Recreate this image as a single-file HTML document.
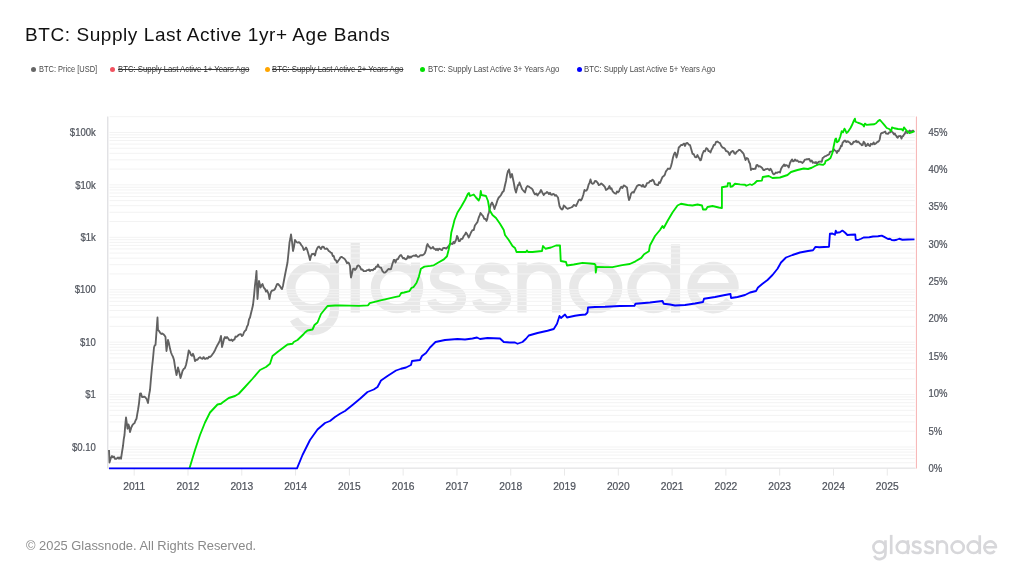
<!DOCTYPE html>
<html><head><meta charset="utf-8"><title>BTC: Supply Last Active 1yr+ Age Bands</title>
<style>
html,body{margin:0;padding:0;background:#fff;}
body{width:1024px;height:576px;position:relative;overflow:hidden;font-family:"Liberation Sans",sans-serif;}
#title{position:absolute;left:25.3px;top:22.6px;font-size:19px;line-height:24px;color:#111;white-space:nowrap;letter-spacing:0.57px;}
#legend{position:absolute;left:0;top:62px;height:14px;font-size:8.6px;line-height:14px;color:#4a4a4a;white-space:nowrap;}
#legend .it{position:absolute;top:0.3px;transform-origin:0 50%;transform:scaleX(0.903);}
#legend .dot{position:absolute;top:4.5px;width:5px;height:5px;border-radius:50%;}
#legend .off{text-decoration:line-through;color:#333;}
#foot{position:absolute;left:25.5px;top:538px;font-size:12.9px;line-height:16px;color:#8a8a8a;white-space:nowrap;}
svg{position:absolute;left:0;top:0;will-change:transform;}
#title,#foot,#legend{will-change:transform;}
svg text{font-family:"Liberation Sans",sans-serif;font-size:10.3px;fill:#4f535c;stroke:#4f535c;stroke-width:0.22px;}
</style></head><body>
<div id="title">BTC: Supply Last Active 1yr+ Age Bands</div>
<div id="legend">
<span class="dot" style="left:31px;background:#666"></span><span class="it" style="left:39px;transform:scaleX(0.87)">BTC: Price [USD]</span>
<span class="dot" style="left:109.8px;background:#f0525f"></span><span class="it off" style="left:118.3px">BTC: Supply Last Active 1+ Years Ago</span>
<span class="dot" style="left:264.8px;background:#ffa500"></span><span class="it off" style="left:272.3px">BTC: Supply Last Active 2+ Years Ago</span>
<span class="dot" style="left:420px;background:#00e000"></span><span class="it" style="left:428.2px">BTC: Supply Last Active 3+ Years Ago</span>
<span class="dot" style="left:576.5px;background:#0000ff"></span><span class="it" style="left:584px">BTC: Supply Last Active 5+ Years Ago</span>
</div>
<svg width="1024" height="576" viewBox="0 0 1024 576">
<g fill="none" stroke="#e8e8e8" stroke-width="9.2" stroke-linecap="butt" stroke-linejoin="round"><ellipse cx="312.5" cy="287.7" rx="21.6" ry="21"/><path d="M334.5,262.5 V309 A21.5,21.5 0 0 1 294.02,319.09"/><path d="M355.25,243 V312.6"/><ellipse cx="397" cy="287.7" rx="21.6" ry="21"/><path d="M415.5,262.5 V312.6"/><path d="M460.50,274.70 C458.50,268.70 451.75,267.20 446.75,267.20 C438.75,267.20 434.50,270.70 434.50,277.70 C434.50,284.20 439.75,285.90 446.75,287.70 C453.75,289.50 461.50,291.20 461.50,298.20 C461.50,305.20 454.75,308.70 446.75,308.70 C440.75,308.70 433.00,306.70 431.50,299.70"/><path d="M505.50,274.70 C503.50,268.70 496.75,267.20 491.75,267.20 C483.75,267.20 479.50,270.70 479.50,277.70 C479.50,284.20 484.75,285.90 491.75,287.70 C498.75,289.50 506.50,291.20 506.50,298.20 C506.50,305.20 499.75,308.70 491.75,308.70 C485.75,308.70 478.00,306.70 476.50,299.70"/><path d="M522,312.6 V262.5 M522,284 A17.25,17.25 0 0 1 556.5,284 V312.6"/><ellipse cx="595.75" cy="287.7" rx="22" ry="21"/><ellipse cx="653.5" cy="287.7" rx="21.6" ry="21"/><path d="M675.5,244.3 V312.6"/><path d="M692.00,287.7 H734.20 A21.1,21.1 0 1 0 729.73,300.69"/></g>
<g stroke="#f3f3f3" stroke-width="1"><line x1="109.5" x2="914.8" y1="467.83" y2="467.83"/><line x1="109.5" x2="914.8" y1="462.75" y2="462.75"/><line x1="109.5" x2="914.8" y1="458.60" y2="458.60"/><line x1="109.5" x2="914.8" y1="455.09" y2="455.09"/><line x1="109.5" x2="914.8" y1="452.05" y2="452.05"/><line x1="109.5" x2="914.8" y1="449.37" y2="449.37"/><line x1="109.5" x2="914.8" y1="446.97" y2="446.97"/><line x1="109.5" x2="914.8" y1="431.19" y2="431.19"/><line x1="109.5" x2="914.8" y1="421.96" y2="421.96"/><line x1="109.5" x2="914.8" y1="415.41" y2="415.41"/><line x1="109.5" x2="914.8" y1="410.33" y2="410.33"/><line x1="109.5" x2="914.8" y1="406.18" y2="406.18"/><line x1="109.5" x2="914.8" y1="402.67" y2="402.67"/><line x1="109.5" x2="914.8" y1="399.63" y2="399.63"/><line x1="109.5" x2="914.8" y1="396.95" y2="396.95"/><line x1="109.5" x2="914.8" y1="394.55" y2="394.55"/><line x1="109.5" x2="914.8" y1="378.77" y2="378.77"/><line x1="109.5" x2="914.8" y1="369.54" y2="369.54"/><line x1="109.5" x2="914.8" y1="362.99" y2="362.99"/><line x1="109.5" x2="914.8" y1="357.91" y2="357.91"/><line x1="109.5" x2="914.8" y1="353.76" y2="353.76"/><line x1="109.5" x2="914.8" y1="350.25" y2="350.25"/><line x1="109.5" x2="914.8" y1="347.21" y2="347.21"/><line x1="109.5" x2="914.8" y1="344.53" y2="344.53"/><line x1="109.5" x2="914.8" y1="342.13" y2="342.13"/><line x1="109.5" x2="914.8" y1="326.35" y2="326.35"/><line x1="109.5" x2="914.8" y1="317.12" y2="317.12"/><line x1="109.5" x2="914.8" y1="310.57" y2="310.57"/><line x1="109.5" x2="914.8" y1="305.49" y2="305.49"/><line x1="109.5" x2="914.8" y1="301.34" y2="301.34"/><line x1="109.5" x2="914.8" y1="297.83" y2="297.83"/><line x1="109.5" x2="914.8" y1="294.79" y2="294.79"/><line x1="109.5" x2="914.8" y1="292.11" y2="292.11"/><line x1="109.5" x2="914.8" y1="289.71" y2="289.71"/><line x1="109.5" x2="914.8" y1="273.93" y2="273.93"/><line x1="109.5" x2="914.8" y1="264.70" y2="264.70"/><line x1="109.5" x2="914.8" y1="258.15" y2="258.15"/><line x1="109.5" x2="914.8" y1="253.07" y2="253.07"/><line x1="109.5" x2="914.8" y1="248.92" y2="248.92"/><line x1="109.5" x2="914.8" y1="245.41" y2="245.41"/><line x1="109.5" x2="914.8" y1="242.37" y2="242.37"/><line x1="109.5" x2="914.8" y1="239.69" y2="239.69"/><line x1="109.5" x2="914.8" y1="237.29" y2="237.29"/><line x1="109.5" x2="914.8" y1="221.51" y2="221.51"/><line x1="109.5" x2="914.8" y1="212.28" y2="212.28"/><line x1="109.5" x2="914.8" y1="205.73" y2="205.73"/><line x1="109.5" x2="914.8" y1="200.65" y2="200.65"/><line x1="109.5" x2="914.8" y1="196.50" y2="196.50"/><line x1="109.5" x2="914.8" y1="192.99" y2="192.99"/><line x1="109.5" x2="914.8" y1="189.95" y2="189.95"/><line x1="109.5" x2="914.8" y1="187.27" y2="187.27"/><line x1="109.5" x2="914.8" y1="184.87" y2="184.87"/><line x1="109.5" x2="914.8" y1="169.09" y2="169.09"/><line x1="109.5" x2="914.8" y1="159.86" y2="159.86"/><line x1="109.5" x2="914.8" y1="153.31" y2="153.31"/><line x1="109.5" x2="914.8" y1="148.23" y2="148.23"/><line x1="109.5" x2="914.8" y1="144.08" y2="144.08"/><line x1="109.5" x2="914.8" y1="140.57" y2="140.57"/><line x1="109.5" x2="914.8" y1="137.53" y2="137.53"/><line x1="109.5" x2="914.8" y1="134.85" y2="134.85"/><line x1="109.5" x2="914.8" y1="132.45" y2="132.45"/><line x1="109.5" x2="914.8" y1="116.67" y2="116.67"/></g>
<g stroke="#e9e9e9" stroke-width="1"><line x1="134.20" x2="134.20" y1="468.6" y2="475.6"/><line x1="187.99" x2="187.99" y1="468.6" y2="475.6"/><line x1="241.78" x2="241.78" y1="468.6" y2="475.6"/><line x1="295.57" x2="295.57" y1="468.6" y2="475.6"/><line x1="349.36" x2="349.36" y1="468.6" y2="475.6"/><line x1="403.15" x2="403.15" y1="468.6" y2="475.6"/><line x1="456.94" x2="456.94" y1="468.6" y2="475.6"/><line x1="510.73" x2="510.73" y1="468.6" y2="475.6"/><line x1="564.52" x2="564.52" y1="468.6" y2="475.6"/><line x1="618.31" x2="618.31" y1="468.6" y2="475.6"/><line x1="672.10" x2="672.10" y1="468.6" y2="475.6"/><line x1="725.89" x2="725.89" y1="468.6" y2="475.6"/><line x1="779.68" x2="779.68" y1="468.6" y2="475.6"/><line x1="833.47" x2="833.47" y1="468.6" y2="475.6"/><line x1="887.26" x2="887.26" y1="468.6" y2="475.6"/></g>
<line x1="108" x2="915.6" y1="468.3" y2="468.3" stroke="#e3e3e5" stroke-width="1.1"/>
<line x1="107.8" x2="107.8" y1="116.5" y2="468.5" stroke="#d9d9dc" stroke-width="1.1"/>
<line x1="916.4" x2="916.4" y1="116.5" y2="468.5" stroke="#f7b1b1" stroke-width="1"/>
<g><text transform="translate(134.20,489.8) scale(0.995,1)" text-anchor="middle">2011</text><text transform="translate(187.99,489.8) scale(0.995,1)" text-anchor="middle">2012</text><text transform="translate(241.78,489.8) scale(0.995,1)" text-anchor="middle">2013</text><text transform="translate(295.57,489.8) scale(0.995,1)" text-anchor="middle">2014</text><text transform="translate(349.36,489.8) scale(0.995,1)" text-anchor="middle">2015</text><text transform="translate(403.15,489.8) scale(0.995,1)" text-anchor="middle">2016</text><text transform="translate(456.94,489.8) scale(0.995,1)" text-anchor="middle">2017</text><text transform="translate(510.73,489.8) scale(0.995,1)" text-anchor="middle">2018</text><text transform="translate(564.52,489.8) scale(0.995,1)" text-anchor="middle">2019</text><text transform="translate(618.31,489.8) scale(0.995,1)" text-anchor="middle">2020</text><text transform="translate(672.10,489.8) scale(0.995,1)" text-anchor="middle">2021</text><text transform="translate(725.89,489.8) scale(0.995,1)" text-anchor="middle">2022</text><text transform="translate(779.68,489.8) scale(0.995,1)" text-anchor="middle">2023</text><text transform="translate(833.47,489.8) scale(0.995,1)" text-anchor="middle">2024</text><text transform="translate(887.26,489.8) scale(0.995,1)" text-anchor="middle">2025</text><text transform="translate(95.8,136.15) scale(0.925,1)" text-anchor="end">$100k</text><text transform="translate(95.8,188.57) scale(0.925,1)" text-anchor="end">$10k</text><text transform="translate(95.8,240.99) scale(0.925,1)" text-anchor="end">$1k</text><text transform="translate(95.8,293.41) scale(0.925,1)" text-anchor="end">$100</text><text transform="translate(95.8,345.83) scale(0.925,1)" text-anchor="end">$10</text><text transform="translate(95.8,398.25) scale(0.925,1)" text-anchor="end">$1</text><text transform="translate(95.8,450.67) scale(0.925,1)" text-anchor="end">$0.10</text><text transform="translate(928.4,471.90) scale(0.925,1)">0%</text><text transform="translate(928.4,434.54) scale(0.925,1)">5%</text><text transform="translate(928.4,397.18) scale(0.925,1)">10%</text><text transform="translate(928.4,359.82) scale(0.925,1)">15%</text><text transform="translate(928.4,322.46) scale(0.925,1)">20%</text><text transform="translate(928.4,285.10) scale(0.925,1)">25%</text><text transform="translate(928.4,247.74) scale(0.925,1)">30%</text><text transform="translate(928.4,210.38) scale(0.925,1)">35%</text><text transform="translate(928.4,173.02) scale(0.925,1)">40%</text><text transform="translate(928.4,135.66) scale(0.925,1)">45%</text></g>
<g transform="translate(792.97,467.69) scale(0.2765)" fill="none" stroke="#d7d7da" stroke-width="9.6" stroke-linejoin="round"><ellipse cx="312.5" cy="287.7" rx="21.6" ry="21"/><path d="M334.5,262.5 V309 A21.5,21.5 0 0 1 294.02,319.09"/><path d="M355.25,243 V312.6"/><ellipse cx="397" cy="287.7" rx="21.6" ry="21"/><path d="M415.5,262.5 V312.6"/><path d="M460.50,274.70 C458.50,268.70 451.75,267.20 446.75,267.20 C438.75,267.20 434.50,270.70 434.50,277.70 C434.50,284.20 439.75,285.90 446.75,287.70 C453.75,289.50 461.50,291.20 461.50,298.20 C461.50,305.20 454.75,308.70 446.75,308.70 C440.75,308.70 433.00,306.70 431.50,299.70"/><path d="M505.50,274.70 C503.50,268.70 496.75,267.20 491.75,267.20 C483.75,267.20 479.50,270.70 479.50,277.70 C479.50,284.20 484.75,285.90 491.75,287.70 C498.75,289.50 506.50,291.20 506.50,298.20 C506.50,305.20 499.75,308.70 491.75,308.70 C485.75,308.70 478.00,306.70 476.50,299.70"/><path d="M522,312.6 V262.5 M522,284 A17.25,17.25 0 0 1 556.5,284 V312.6"/><ellipse cx="595.75" cy="287.7" rx="22" ry="21"/><ellipse cx="653.5" cy="287.7" rx="21.6" ry="21"/><path d="M675.5,244.3 V312.6"/><path d="M692.00,287.7 H734.20 A21.1,21.1 0 1 0 729.73,300.69"/></g>
<g fill="none" stroke-linejoin="round" stroke-linecap="butt">
<path d="M109.00,450.00 L109.25,455.72 L109.50,462.50 L110.75,458.20 L112.00,456.00 L113.00,457.37 L114.00,456.55 L115.00,458.75 L116.00,458.86 L117.00,458.35 L118.00,457.42 L119.00,458.77 L120.00,457.36 L121.00,458.75 L122.00,452.18 L123.00,446.00 L123.75,439.21 L124.50,435.00 L125.25,425.02 L126.00,417.50 L126.75,422.90 L127.50,428.75 L128.00,427.61 L128.50,424.50 L129.25,427.12 L130.00,432.00 L131.25,427.67 L132.50,425.00 L133.50,423.82 L134.50,423.22 L135.50,420.54 L136.50,418.75 L137.25,414.07 L138.00,410.00 L139.00,403.30 L140.00,393.75 L141.00,393.47 L142.00,396.99 L143.00,397.00 L144.25,396.62 L145.50,397.50 L146.75,399.18 L148.00,403.00 L149.00,395.35 L150.00,390.00 L151.00,378.18 L152.00,367.50 L153.00,358.45 L154.00,347.50 L154.75,345.29 L155.50,345.00 L156.50,331.49 L157.50,317.50 L157.75,324.17 L158.00,330.00 L159.08,330.95 L160.17,332.81 L161.25,334.00 L162.31,333.44 L163.38,334.18 L164.44,335.37 L165.50,337.00 L166.00,344.54 L166.50,351.00 L167.25,345.28 L168.00,340.00 L169.00,343.61 L170.00,348.59 L171.00,352.50 L172.00,354.86 L173.00,356.90 L174.00,360.00 L175.25,368.38 L176.50,375.00 L177.25,371.85 L178.00,367.50 L179.25,371.98 L180.50,378.00 L181.50,374.72 L182.50,371.00 L183.67,369.08 L184.83,368.13 L186.00,365.00 L187.38,358.44 L188.75,350.50 L189.88,352.11 L191.00,355.00 L192.00,355.82 L193.00,353.75 L194.00,356.23 L195.00,361.00 L196.25,359.75 L197.50,359.77 L198.75,358.00 L200.00,357.21 L201.25,358.47 L202.50,358.75 L203.57,357.12 L204.64,358.75 L205.71,358.79 L206.79,357.97 L207.86,358.63 L208.93,356.69 L210.00,357.00 L211.25,356.09 L212.50,354.28 L213.75,352.50 L215.00,350.24 L216.25,347.37 L217.50,345.00 L218.67,343.02 L219.83,340.33 L221.00,336.00 L221.50,341.42 L222.00,347.00 L223.00,343.49 L224.00,339.00 L225.00,337.02 L226.00,338.27 L227.00,337.00 L228.10,338.24 L229.20,340.08 L230.30,340.37 L231.40,339.55 L232.50,341.00 L233.50,339.66 L234.50,339.51 L235.50,336.57 L236.50,336.89 L237.50,336.00 L238.60,334.80 L239.70,334.45 L240.80,334.08 L241.90,336.00 L243.00,335.00 L244.00,332.22 L245.00,330.91 L246.00,330.00 L247.00,326.55 L248.00,324.86 L249.00,319.37 L250.00,317.50 L251.00,313.18 L252.00,309.31 L253.00,305.00 L254.00,296.15 L255.00,285.00 L255.75,278.96 L256.50,271.00 L257.00,286.09 L257.50,299.00 L258.25,289.34 L259.00,281.00 L259.75,284.00 L260.50,287.50 L261.50,285.33 L262.50,284.00 L263.75,287.65 L265.00,289.00 L266.00,291.54 L267.00,290.29 L268.00,292.50 L268.75,294.78 L269.50,299.00 L270.25,294.70 L271.00,292.00 L272.00,290.45 L273.00,290.45 L274.00,290.02 L275.00,289.00 L276.00,286.62 L277.00,284.18 L278.00,284.00 L279.00,285.01 L280.00,286.11 L281.00,287.95 L282.00,289.00 L283.00,285.69 L284.00,280.24 L285.00,275.00 L286.25,268.80 L287.50,262.50 L288.50,252.85 L289.50,242.50 L290.25,239.03 L291.00,234.50 L292.00,241.41 L293.00,251.00 L294.00,246.70 L295.00,240.00 L296.00,241.44 L297.00,242.32 L298.00,242.69 L299.00,242.08 L300.00,243.00 L301.25,245.03 L302.50,246.48 L303.75,250.00 L304.88,249.15 L306.00,247.50 L307.00,249.31 L308.00,252.45 L309.00,256.00 L310.00,260.00 L311.00,255.99 L312.00,254.00 L313.00,254.02 L314.00,253.66 L315.00,255.50 L316.00,251.17 L317.00,248.79 L318.00,247.00 L319.00,246.47 L320.00,247.92 L321.00,249.00 L322.38,246.58 L323.75,247.00 L324.75,248.92 L325.75,248.94 L326.75,248.35 L327.75,249.46 L328.75,251.00 L329.75,251.54 L330.75,252.59 L331.75,252.87 L332.75,256.05 L333.75,256.00 L334.83,259.65 L335.92,260.23 L337.00,262.50 L338.25,260.70 L339.50,259.00 L340.50,257.26 L341.50,256.81 L342.50,257.50 L343.67,258.19 L344.83,259.13 L346.00,261.00 L347.00,263.24 L348.00,262.48 L349.00,263.32 L350.00,266.00 L350.50,273.10 L351.00,277.50 L352.00,273.33 L353.00,269.00 L354.00,268.44 L355.00,270.00 L356.25,268.63 L357.50,265.58 L358.75,265.50 L360.00,266.92 L361.25,269.60 L362.50,269.50 L363.67,271.09 L364.83,271.09 L366.00,271.00 L367.00,270.08 L368.00,270.20 L369.00,269.40 L370.00,271.02 L371.00,270.00 L372.00,269.85 L373.00,270.34 L374.00,268.74 L375.00,269.00 L376.00,266.67 L377.00,266.93 L378.00,264.50 L379.00,266.95 L380.00,267.56 L381.00,267.50 L382.38,270.92 L383.75,272.50 L385.00,272.62 L386.25,271.55 L387.50,270.00 L388.67,268.85 L389.83,269.39 L391.00,269.00 L392.38,264.07 L393.75,260.00 L394.62,259.84 L395.50,262.50 L396.75,259.33 L398.00,259.00 L399.00,257.00 L400.00,255.61 L401.00,255.00 L402.00,256.58 L403.00,258.37 L404.00,257.84 L405.00,259.00 L406.00,259.31 L407.00,258.46 L408.00,256.00 L409.00,257.87 L410.00,256.59 L411.00,257.50 L412.00,256.29 L413.00,255.93 L414.00,255.47 L415.00,256.00 L416.00,255.01 L417.00,256.17 L418.00,256.90 L419.00,256.62 L420.00,255.50 L421.25,255.11 L422.50,255.29 L423.75,254.50 L424.88,253.15 L426.00,250.00 L426.75,245.75 L427.50,244.00 L428.75,246.23 L430.00,247.50 L431.00,248.56 L432.00,248.01 L433.00,247.00 L434.00,248.75 L435.00,248.93 L436.00,250.00 L437.00,248.79 L438.00,250.37 L439.00,248.75 L440.00,249.00 L441.00,249.70 L442.00,250.01 L443.00,248.09 L444.00,247.90 L445.00,248.00 L446.25,248.67 L447.50,247.34 L448.75,246.00 L450.00,244.34 L451.25,243.55 L452.50,244.00 L453.50,241.95 L454.50,243.21 L455.50,241.00 L456.25,239.42 L457.00,236.00 L457.88,237.44 L458.75,241.00 L459.88,240.98 L461.00,239.00 L462.38,238.94 L463.75,236.00 L464.88,234.72 L466.00,232.50 L467.38,234.55 L468.75,237.50 L469.88,235.15 L471.00,232.50 L472.38,230.14 L473.75,230.00 L474.88,225.54 L476.00,224.00 L477.38,222.16 L478.75,217.50 L479.62,215.70 L480.50,213.00 L481.75,214.58 L483.00,216.00 L484.25,218.80 L485.50,219.00 L486.00,219.80 L486.50,221.00 L487.25,219.12 L488.00,215.00 L489.00,212.23 L490.00,207.50 L491.00,204.13 L492.00,202.50 L493.25,205.01 L494.50,209.00 L495.25,206.38 L496.00,205.00 L497.38,200.47 L498.75,197.50 L499.88,196.51 L501.00,195.00 L502.38,192.28 L503.75,191.00 L504.88,185.76 L506.00,181.00 L507.00,174.89 L508.00,171.00 L508.50,171.48 L509.00,169.50 L509.75,173.06 L510.50,177.50 L511.25,175.62 L512.00,174.00 L512.88,178.50 L513.75,182.50 L514.88,188.71 L516.00,192.50 L517.00,188.51 L518.00,185.00 L518.75,185.00 L519.50,182.50 L520.75,185.75 L522.00,189.00 L523.00,190.26 L524.00,191.40 L525.00,192.50 L526.25,187.81 L527.50,186.00 L528.75,186.57 L530.00,187.50 L531.25,188.22 L532.50,189.35 L533.75,192.50 L535.00,194.40 L536.25,193.52 L537.50,195.50 L538.67,193.59 L539.83,192.51 L541.00,190.00 L542.38,192.67 L543.75,195.00 L544.83,193.48 L545.92,193.06 L547.00,192.00 L548.00,192.79 L549.00,194.10 L550.00,192.69 L551.00,194.50 L552.00,194.78 L553.00,193.95 L554.00,194.13 L555.00,195.72 L556.00,195.00 L557.00,196.27 L558.00,197.50 L558.75,201.94 L559.50,206.00 L560.75,208.53 L562.00,209.50 L562.88,208.74 L563.75,205.50 L565.00,206.41 L566.25,208.00 L567.50,208.75 L568.67,208.35 L569.83,207.95 L571.00,207.50 L572.38,206.83 L573.75,205.00 L574.88,205.36 L576.00,206.00 L577.38,203.10 L578.75,200.00 L579.83,199.52 L580.92,200.49 L582.00,198.75 L583.25,194.97 L584.50,190.00 L585.50,190.71 L586.50,190.49 L587.50,188.75 L588.50,184.95 L589.50,182.76 L590.50,179.50 L591.50,182.95 L592.50,183.75 L593.75,183.39 L595.00,181.00 L596.25,181.24 L597.50,182.53 L598.75,185.00 L600.00,184.66 L601.25,183.38 L602.50,184.50 L603.67,185.56 L604.83,186.89 L606.00,190.00 L607.17,189.18 L608.33,188.19 L609.50,186.00 L610.50,188.86 L611.50,188.30 L612.50,191.00 L613.67,192.57 L614.83,193.31 L616.00,193.75 L617.00,191.43 L618.00,192.40 L619.00,191.40 L620.00,188.75 L621.25,186.83 L622.50,187.94 L623.75,185.50 L624.83,185.86 L625.92,186.80 L627.00,187.50 L628.00,195.22 L629.00,200.00 L630.00,197.87 L631.00,193.75 L632.38,192.11 L633.75,192.50 L634.83,190.13 L635.92,188.21 L637.00,186.00 L638.00,185.39 L639.00,184.84 L640.00,185.08 L641.00,185.50 L642.00,186.54 L643.00,184.81 L644.00,186.79 L645.00,187.00 L646.00,185.62 L647.00,183.15 L648.00,182.89 L649.00,182.57 L650.00,181.00 L651.25,181.04 L652.50,179.69 L653.75,181.00 L654.88,184.21 L656.00,184.50 L657.00,184.99 L658.00,185.17 L659.00,182.19 L660.00,183.00 L661.25,179.96 L662.50,176.95 L663.75,176.00 L664.83,174.84 L665.92,171.31 L667.00,170.00 L668.00,168.47 L669.00,168.93 L670.00,168.75 L671.00,166.23 L672.00,162.21 L673.00,157.50 L674.00,154.28 L675.00,152.50 L675.75,153.95 L676.50,157.50 L677.62,153.76 L678.75,147.50 L679.88,146.46 L681.00,145.00 L682.38,144.98 L683.75,143.75 L684.38,143.64 L685.00,146.00 L686.25,143.17 L687.50,143.00 L688.75,144.56 L690.00,145.00 L691.25,149.15 L692.50,153.75 L693.75,154.09 L695.00,157.00 L696.25,157.32 L697.50,155.00 L698.50,157.28 L699.50,158.75 L700.25,160.28 L701.00,160.00 L702.38,154.25 L703.75,151.00 L705.00,151.32 L706.25,148.20 L707.50,148.75 L708.50,151.09 L709.50,151.11 L710.50,152.50 L711.58,149.52 L712.67,147.66 L713.75,145.00 L714.88,144.78 L716.00,142.00 L717.38,141.55 L718.75,142.50 L720.00,143.05 L721.25,145.91 L722.50,147.50 L723.67,147.88 L724.83,148.66 L726.00,151.00 L727.17,151.32 L728.33,152.32 L729.50,155.00 L730.50,152.77 L731.50,151.77 L732.50,151.00 L733.50,151.33 L734.50,153.61 L735.50,153.75 L736.58,151.87 L737.67,151.25 L738.75,150.00 L740.00,149.87 L741.25,151.21 L742.50,152.50 L743.50,153.55 L744.50,156.75 L745.50,160.00 L746.75,157.92 L748.00,158.75 L749.00,161.95 L750.00,163.75 L750.50,167.03 L751.00,170.00 L752.17,168.65 L753.33,169.09 L754.50,168.75 L755.50,168.80 L756.50,165.07 L757.50,165.00 L758.67,166.62 L759.83,166.13 L761.00,167.00 L762.17,167.99 L763.33,170.00 L764.50,170.00 L765.50,169.26 L766.50,169.19 L767.50,168.75 L768.50,169.31 L769.50,170.20 L770.50,168.75 L771.75,170.78 L773.00,173.75 L774.00,174.33 L775.00,173.54 L776.00,172.50 L777.00,172.91 L778.00,172.21 L779.00,172.04 L780.00,172.50 L781.00,169.00 L782.00,167.06 L783.00,166.00 L784.00,164.38 L785.00,166.06 L786.00,165.00 L787.38,165.52 L788.75,167.50 L789.88,163.24 L791.00,161.00 L792.00,159.38 L793.00,161.27 L794.00,160.99 L795.00,159.50 L796.25,160.84 L797.50,160.51 L798.75,162.00 L800.00,161.56 L801.25,162.05 L802.50,163.00 L803.67,161.71 L804.83,159.64 L806.00,159.50 L807.00,159.21 L808.00,159.25 L809.25,158.96 L810.50,161.47 L811.75,160.50 L812.83,162.75 L813.92,162.31 L815.00,163.00 L816.00,162.03 L817.00,164.00 L818.00,162.40 L819.25,161.61 L820.50,161.54 L821.75,161.75 L822.67,158.08 L823.60,157.40 L824.65,156.41 L825.70,156.06 L826.75,155.50 L828.00,154.88 L829.25,154.25 L829.88,152.10 L830.50,151.75 L831.75,151.44 L833.00,151.10 L833.95,149.31 L834.90,150.50 L835.95,151.04 L837.00,153.00 L837.80,150.82 L838.60,151.10 L839.42,149.25 L840.25,148.00 L841.00,145.68 L841.75,146.10 L842.67,142.49 L843.60,141.75 L844.25,140.66 L844.90,140.75 L845.50,140.57 L846.10,142.00 L846.92,141.81 L847.75,141.10 L848.83,142.01 L849.90,142.75 L850.83,144.25 L851.75,144.25 L852.67,143.47 L853.60,141.75 L854.85,141.90 L856.10,140.75 L857.05,142.26 L858.00,141.50 L858.95,142.22 L859.90,143.60 L860.83,143.90 L861.75,145.25 L862.67,144.95 L863.60,141.75 L864.67,142.87 L865.75,146.10 L866.75,145.52 L867.75,143.60 L868.83,145.28 L869.90,146.10 L870.83,143.81 L871.75,144.25 L872.67,144.33 L873.60,142.40 L874.55,144.18 L875.50,143.60 L876.45,143.06 L877.40,141.75 L878.33,141.83 L879.25,140.50 L879.75,139.24 L880.25,136.10 L881.00,133.47 L881.75,133.00 L882.67,132.77 L883.60,132.40 L884.42,131.96 L885.25,131.50 L886.00,133.55 L886.75,133.60 L888.00,133.91 L889.25,132.40 L890.17,132.43 L891.10,130.50 L892.05,131.88 L893.00,132.75 L893.95,134.35 L894.90,133.60 L895.50,135.10 L896.10,135.50 L896.92,137.20 L897.75,137.75 L898.50,136.11 L899.25,136.10 L900.38,135.94 L901.50,138.60 L902.38,136.25 L903.25,136.10 L904.08,134.43 L904.90,133.60 L905.70,131.49 L906.50,131.75 L907.25,133.08 L908.00,132.40 L908.75,131.63 L909.50,130.50 L910.30,131.18 L911.10,131.10 L912.05,131.18 L913.00,130.50 L913.75,131.34 L914.50,131.10" stroke="#616161" stroke-width="1.85"/>
<path d="M189.50,468.30 L195.00,450.00 L200.00,435.00 L205.00,422.50 L210.00,412.50 L217.50,404.50 L221.00,403.75 L222.50,402.50 L228.75,398.00 L235.00,396.00 L238.75,393.75 L245.00,387.00 L252.50,378.75 L260.00,370.00 L266.00,367.00 L270.00,363.75 L272.50,356.00 L277.50,352.00 L287.50,344.50 L292.50,343.75 L293.75,342.00 L297.50,340.00 L303.75,334.00 L305.00,332.50 L307.50,330.50 L312.50,329.50 L314.50,325.00 L317.50,322.50 L321.00,314.00 L327.50,306.00 L335.00,305.50 L340.00,305.30 L349.40,305.60 L358.75,305.90 L368.10,305.30 L369.70,303.10 L380.60,300.30 L394.70,297.20 L399.40,296.10 L401.25,293.00 L404.10,292.50 L409.50,291.10 L411.60,287.80 L413.40,287.20 L416.60,282.80 L418.90,276.60 L420.90,268.75 L424.40,266.60 L430.60,265.90 L433.75,265.30 L438.40,262.50 L443.90,259.40 L447.00,256.25 L448.60,250.00 L450.20,242.20 L451.25,232.80 L453.30,225.00 L454.50,220.00 L457.50,212.50 L461.00,207.00 L465.00,200.00 L468.00,193.75 L469.00,193.00 L470.00,196.00 L473.75,194.50 L476.00,197.50 L478.75,200.50 L480.00,197.50 L480.75,191.00 L481.50,195.00 L486.00,196.00 L488.00,201.00 L489.50,210.00 L492.50,215.00 L496.00,218.00 L500.00,223.75 L503.75,230.00 L505.00,235.00 L508.75,240.00 L512.50,246.00 L515.00,248.00 L516.50,252.00 L526.00,252.00 L527.00,250.50 L528.00,252.00 L532.50,252.00 L542.00,251.00 L543.00,246.00 L545.50,248.75 L551.00,247.50 L556.00,245.50 L560.00,245.50 L560.75,261.00 L566.00,262.00 L567.00,265.50 L573.75,264.50 L582.50,262.80 L590.00,263.50 L594.50,264.00 L595.50,265.00 L595.75,272.50 L596.60,267.00 L605.00,267.10 L612.60,267.10 L622.20,265.10 L629.80,264.00 L635.50,261.30 L641.30,257.90 L644.10,254.20 L648.90,251.30 L649.90,245.50 L655.00,236.00 L660.00,230.00 L662.50,226.00 L663.75,228.00 L667.50,221.00 L672.50,212.50 L677.50,205.50 L681.00,203.75 L687.50,205.00 L692.50,205.50 L697.50,204.50 L702.00,205.50 L703.00,209.50 L706.00,209.50 L707.50,207.00 L712.50,206.00 L718.75,207.50 L721.90,208.00 L721.90,187.25 L727.50,186.25 L727.90,183.10 L730.00,183.10 L730.50,186.90 L732.50,186.25 L735.00,183.75 L740.00,184.40 L745.00,184.75 L746.25,185.75 L750.00,184.25 L751.90,185.00 L754.40,183.50 L756.90,181.00 L761.90,180.60 L762.75,177.00 L768.75,176.00 L772.50,178.00 L780.00,177.50 L787.50,175.00 L791.00,172.00 L797.50,170.00 L803.75,168.50 L808.00,169.00 L811.75,167.75 L815.50,165.75 L819.25,164.25 L823.00,164.90 L824.90,163.60 L825.50,161.10 L828.00,159.90 L830.50,158.00 L832.40,153.00 L833.60,146.75 L835.25,139.25 L836.10,138.60 L837.00,142.40 L838.60,141.10 L840.25,136.75 L841.75,131.10 L843.00,132.40 L844.50,128.60 L845.50,130.50 L846.50,133.00 L848.00,131.75 L850.50,128.00 L852.40,124.25 L853.60,121.10 L854.90,118.60 L855.50,121.75 L858.00,122.75 L860.50,123.60 L863.00,124.90 L864.00,126.50 L864.90,123.60 L866.75,124.90 L870.50,124.50 L874.25,124.25 L876.10,123.25 L878.00,121.10 L879.90,119.90 L881.75,122.00 L884.25,124.90 L886.75,128.00 L889.25,129.00 L891.10,131.10 L892.00,127.40 L894.25,128.25 L898.00,129.00 L901.75,129.25 L903.00,130.50 L904.00,127.40 L905.50,129.25 L907.40,131.50 L909.50,133.00 L911.75,132.40 L914.25,131.10" stroke="#00e400" stroke-width="1.85"/>
<path d="M109.00,468.30 L297.00,468.30 L302.50,455.00 L310.00,440.00 L317.50,429.50 L325.00,423.00 L330.00,421.00 L335.00,417.00 L340.00,413.75 L345.00,411.00 L352.50,405.00 L360.00,398.75 L367.50,392.00 L373.75,389.50 L377.50,387.00 L381.00,380.50 L387.50,376.00 L396.00,370.50 L401.00,368.75 L406.00,367.50 L411.00,365.00 L412.00,361.00 L420.00,360.00 L422.00,356.00 L426.00,353.00 L430.00,347.50 L435.50,342.00 L445.00,340.00 L457.50,339.00 L465.00,339.50 L472.50,338.50 L477.00,337.50 L480.00,339.00 L487.50,338.00 L500.00,338.50 L503.75,342.00 L510.00,342.50 L515.00,342.50 L517.50,343.75 L522.50,342.00 L526.00,338.75 L528.75,335.50 L537.50,333.00 L547.50,330.75 L553.75,329.00 L557.00,323.75 L559.50,316.00 L561.00,318.00 L565.00,314.50 L567.00,317.50 L575.00,315.75 L580.00,315.00 L585.50,314.50 L587.50,312.50 L588.00,307.50 L595.00,307.00 L605.00,306.75 L620.00,306.00 L634.50,305.75 L635.50,303.75 L650.00,302.50 L662.50,301.00 L663.75,303.75 L670.00,304.50 L675.00,305.50 L685.00,305.00 L695.00,303.50 L703.00,302.00 L704.00,298.75 L715.00,297.00 L725.00,295.00 L730.50,294.00 L731.00,298.00 L737.50,297.00 L745.00,295.00 L750.00,292.50 L756.00,291.00 L758.00,287.50 L762.50,283.75 L767.50,280.00 L772.50,275.00 L777.50,268.75 L781.00,262.50 L786.00,257.50 L792.50,255.00 L800.00,252.50 L808.00,251.00 L813.00,250.25 L815.50,246.90 L819.25,247.25 L824.25,247.00 L829.00,246.75 L829.90,233.75 L832.40,233.50 L834.90,234.75 L835.75,230.60 L836.50,232.75 L839.90,232.25 L842.40,230.60 L844.90,232.50 L847.40,235.00 L850.50,234.75 L855.25,234.50 L855.75,239.75 L858.00,240.00 L861.10,238.75 L863.60,237.50 L869.25,237.25 L873.00,236.50 L878.00,236.25 L881.75,235.60 L884.25,236.90 L888.00,239.00 L889.90,238.75 L891.75,240.00 L894.25,240.25 L896.75,239.75 L899.25,238.75 L902.40,239.75 L908.00,239.50 L914.50,239.40" stroke="#0000ff" stroke-width="1.85"/>
</g>
</svg>
<div id="foot">&copy; 2025 Glassnode. All Rights Reserved.</div>
</body></html>
